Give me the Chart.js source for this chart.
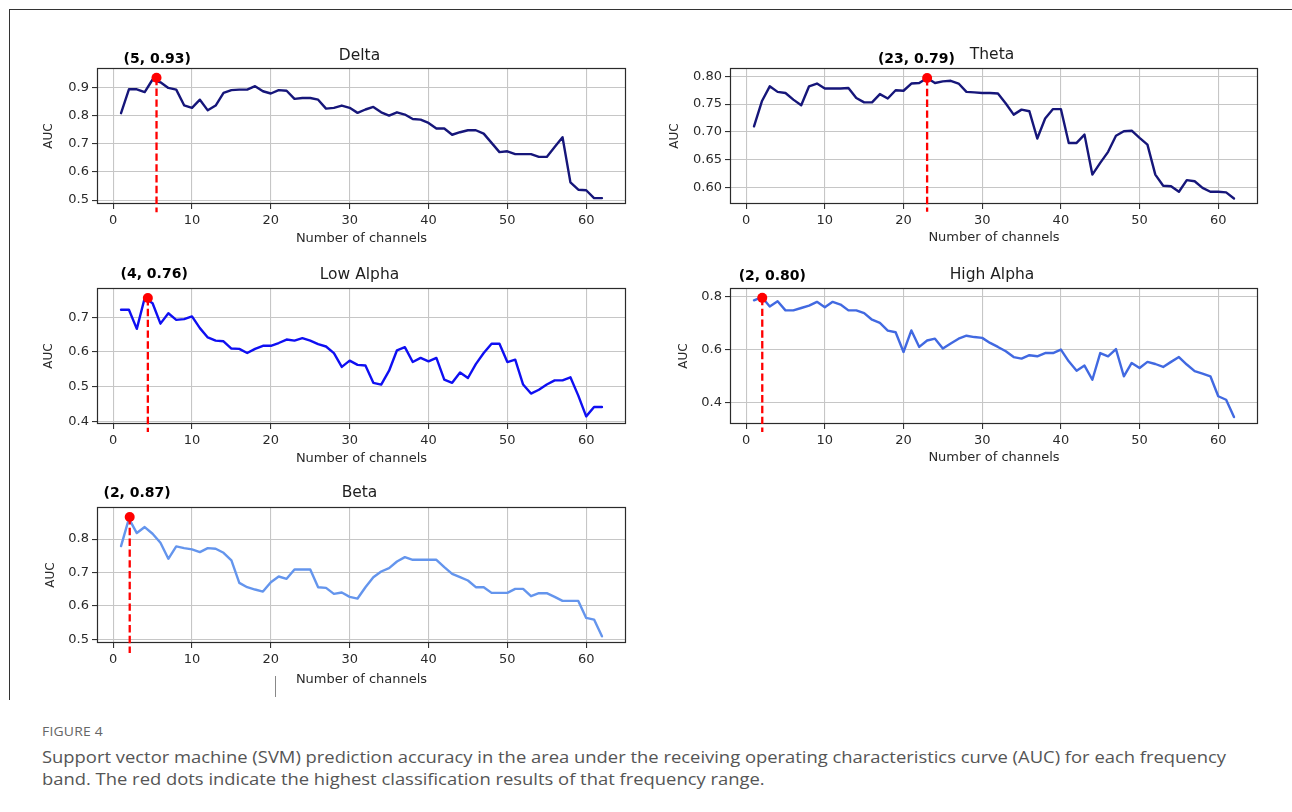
<!DOCTYPE html>
<html>
<head>
<meta charset="utf-8">
<script src="https://cdn.jsdelivr.net/npm/chart.js@4.4.1/dist/chart.umd.min.js"></script>
<style>
html,body{margin:0;padding:0;background:#fff;width:1292px;height:812px;overflow:hidden;position:relative;}
canvas{position:absolute;}
#frame{position:absolute;left:9px;top:9px;width:1300px;height:690px;border-top:1px solid #333;border-left:1px solid #333;}
#artifact{position:absolute;left:275px;top:676px;width:1px;height:21px;background:#888;}
.cap{position:absolute;white-space:nowrap;transform-origin:0 0;font-family:"Open Sans",sans-serif;}
#figlabel{left:42px;top:723px;font-size:13px;line-height:16px;color:#666;letter-spacing:0.2px;}
#caption{left:42px;top:746px;font-size:17px;line-height:22px;color:#555;}
</style>
</head>
<body>
<div id="frame"></div>
<div id="artifact"></div>
<div id="figlabel" class="cap">FIGURE 4</div>
<div id="caption" class="cap"><span id="capline1">Support vector machine (SVM) prediction accuracy in the area under the receiving operating characteristics curve (AUC) for each frequency</span><br><span>band. The red dots indicate the highest classification results of that frequency range.</span></div>
<script>
// ---------------- data ----------------
const channels = [1,2,3,4,5,6,7,8,9,10,11,12,13,14,15,16,17,18,19,20,21,22,23,24,25,26,27,28,29,30,31,32,33,34,35,36,37,38,39,40,41,42,43,44,45,46,47,48,49,50,51,52,53,54,55,56,57,58,59,60,61,62];

const deltaAUC = [0.81,0.895,0.895,0.885,0.93,0.92,0.90,0.894,0.838,0.829,
  0.858,0.82,0.837,0.882,0.892,0.894,0.894,0.906,0.888,0.88,
  0.892,0.89,0.861,0.864,0.864,0.858,0.826,0.829,0.837,0.829,
  0.811,0.823,0.832,0.813,0.801,0.813,0.805,0.789,0.787,0.775,
  0.755,0.755,0.733,0.742,0.749,0.749,0.737,0.704,0.671,0.674,
  0.664,0.664,0.664,0.654,0.654,0.689,0.724,0.563,0.537,0.535,
  0.507,0.507];

const thetaAUC = [0.710,0.755,0.782,0.772,0.770,0.758,0.748,0.782,0.787,0.778,
  0.778,0.778,0.779,0.761,0.753,0.753,0.768,0.760,0.775,0.774,
  0.787,0.788,0.797,0.788,0.791,0.792,0.787,0.772,0.771,0.770,
  0.770,0.769,0.751,0.731,0.740,0.737,0.688,0.724,0.741,0.741,
  0.680,0.680,0.695,0.623,0.644,0.664,0.693,0.701,0.702,0.689,
  0.677,0.623,0.603,0.602,0.592,0.613,0.611,0.599,0.592,0.592,
  0.591,0.580];

const lowAlphaAUC = [0.722,0.722,0.667,0.756,0.741,0.682,0.712,0.693,0.695,0.703,
  0.669,0.642,0.633,0.631,0.610,0.609,0.597,0.609,0.618,0.618,
  0.626,0.636,0.633,0.640,0.633,0.623,0.616,0.597,0.557,0.575,
  0.563,0.561,0.511,0.506,0.546,0.605,0.614,0.571,0.583,0.573,
  0.583,0.520,0.511,0.541,0.525,0.565,0.597,0.624,0.624,0.571,
  0.578,0.506,0.480,0.491,0.506,0.518,0.518,0.527,0.474,0.414,
  0.441,0.441];

const highAlphaAUC = [0.785,0.797,0.762,0.781,0.747,0.747,0.756,0.765,0.779,0.759,
  0.779,0.769,0.747,0.747,0.737,0.712,0.700,0.671,0.665,0.591,
  0.672,0.610,0.634,0.641,0.604,0.623,0.641,0.652,0.647,0.644,
  0.625,0.610,0.594,0.572,0.566,0.579,0.575,0.587,0.587,0.600,
  0.556,0.521,0.540,0.487,0.587,0.575,0.602,0.500,0.550,0.531,
  0.554,0.546,0.535,0.554,0.572,0.544,0.519,0.510,0.500,0.425,
  0.412,0.347];

const betaAUC = [0.779,0.861,0.818,0.836,0.816,0.789,0.741,0.778,0.773,0.769,
  0.761,0.773,0.771,0.759,0.736,0.669,0.656,0.649,0.643,0.671,
  0.688,0.681,0.709,0.709,0.709,0.656,0.654,0.636,0.640,0.627,
  0.622,0.656,0.686,0.703,0.713,0.733,0.746,0.738,0.738,0.738,
  0.738,0.716,0.696,0.686,0.676,0.656,0.656,0.639,0.639,0.639,
  0.651,0.651,0.629,0.638,0.638,0.627,0.615,0.615,0.615,0.564,
  0.559,0.509];

const bandNames = ['Delta','Theta','Low Alpha','High Alpha','Beta'];
const peakX = [5.5, 23, 4.4, 2.05, 2.1];
const peakY = [0.936, 0.797, 0.756, 0.794, 0.866];
const peakLabels = ['(5, 0.93)','(23, 0.79)','(4, 0.76)','(2, 0.80)','(2, 0.87)'];
const vlineBottom = [0.457, 0.556, 0.369, 0.291, 0.459];

const xTicks = [0,10,20,30,40,50,60];
const xTickLabels = ['0','10','20','30','40','50','60'];
const yTicksDelta = [0.5,0.6,0.7,0.8,0.9];
const yLabelsDelta = ['0.5','0.6','0.7','0.8','0.9'];
const yTicksTheta = [0.60,0.65,0.70,0.75,0.80];
const yLabelsTheta = ['0.60','0.65','0.70','0.75','0.80'];
const yTicksLowAlpha = [0.4,0.5,0.6,0.7];
const yLabelsLowAlpha = ['0.4','0.5','0.6','0.7'];
const yTicksHighAlpha = [0.4,0.6,0.8];
const yLabelsHighAlpha = ['0.4','0.6','0.8'];
const yTicksBeta = [0.5,0.6,0.7,0.8];
const yLabelsBeta = ['0.5','0.6','0.7','0.8'];

const yMin = [0.486, 0.570, 0.392, 0.321, 0.489];
const yMax = [0.971, 0.815, 0.785, 0.831, 0.896];
const xMin = -2.05, xMax = 65.05;

// ---------------- layout / style ----------------
const panels = [
  {vals: deltaAUC,     yt: yTicksDelta,     yl: yLabelsDelta,     color:'#16167a', box:{L:97, T:68, R:626, B:204},  yTitlePad:14.9, xTitlePad:8,   titleDy:-8,   labelDx:0.7,  labelDy:-5.3},
  {vals: thetaAUC,     yt: yTicksTheta,     yl: yLabelsTheta,     color:'#16167a', box:{L:730, T:68, R:1258, B:204}, yTitlePad:7.2,  xTitlePad:8.5, titleDy:-8.7, labelDx:-10.7, labelDy:-5.3},
  {vals: lowAlphaAUC,  yt: yTicksLowAlpha,  yl: yLabelsLowAlpha,  color:'#0f0ff2', box:{L:97, T:288, R:626, B:424}, yTitlePad:14.9, xTitlePad:8,   titleDy:-9,   labelDx:6.3,  labelDy:-9.7},
  {vals: highAlphaAUC, yt: yTicksHighAlpha, yl: yLabelsHighAlpha, color:'#4169e1', box:{L:730, T:288, R:1258, B:424}, yTitlePad:16.2, xTitlePad:8.5, titleDy:-9,   labelDx:10,   labelDy:-8},
  {vals: betaAUC,      yt: yTicksBeta,      yl: yLabelsBeta,      color:'#6495ed', box:{L:97, T:507, R:626, B:643}, yTitlePad:16.6, xTitlePad:5.4, titleDy:-9.7, labelDx:7.4,  labelDy:-10.3}
];

Chart.defaults.font.family = '"DejaVu Sans", sans-serif';
const TXT = '#2a2a2a';

function decorPlugin(i, p) {
  return {
    id: 'decor' + i,
    beforeDatasetsDraw(chart) {
      const a = chart.chartArea, c = chart.ctx;
      c.save();
      c.strokeStyle = '#2b2b2b';
      c.lineWidth = 1.2;
      c.strokeRect(a.left + 0.5, a.top + 0.5, a.right - a.left - 1, a.bottom - a.top - 1);
      c.restore();
    },
    afterDatasetsDraw(chart) {
      const a = chart.chartArea, c = chart.ctx, xs = chart.scales.x;
      c.save();
      c.fillStyle = '#1e1e1e';
      c.textAlign = 'center';
      c.textBaseline = 'alphabetic';
      c.font = '15.5px "DejaVu Sans"';
      c.fillText(bandNames[i], (a.left + a.right) / 2 - 2, a.top + p.titleDy);
      c.fillStyle = '#000';
      c.font = 'bold 14px "DejaVu Sans"';
      c.fillText(peakLabels[i], xs.getPixelForValue(peakX[i]) + p.labelDx, a.top + p.labelDy);
      c.restore();
    }
  };
}

panels.forEach((p, i) => {
  const b = p.box;
  const W = b.R - b.L + 90, H = b.B - b.T + 90;
  const cv = document.createElement('canvas');
  cv.width = W; cv.height = H;
  cv.style.left = (b.L - 70) + 'px';
  cv.style.top = (b.T - 40) + 'px';
  cv.style.width = W + 'px';
  cv.style.height = H + 'px';
  document.body.appendChild(cv);

  new Chart(cv, {
    type: 'line',
    data: {
      datasets: [
        { data: [{x: peakX[i], y: peakY[i]}], showLine: false, pointRadius: 5, pointHoverRadius: 5,
          pointBackgroundColor: '#ff0000', pointBorderWidth: 0, clip: false },
        { data: [{x: peakX[i], y: peakY[i]}, {x: peakX[i], y: vlineBottom[i]}], borderColor: '#ff0000',
          borderWidth: 2.3, borderDash: [7.4, 3.4], pointRadius: 0, clip: false, fill: false },
        { data: channels.map((c, k) => ({x: c, y: p.vals[k]})), borderColor: p.color, borderWidth: 2.4,
          pointRadius: 0, tension: 0, fill: false, borderJoinStyle: 'round', borderCapStyle: 'round' }
      ]
    },
    options: {
      responsive: false,
      animation: false,
      events: [],
      layout: { padding: { left: 0, top: 40, right: 20, bottom: 0 } },
      plugins: { legend: { display: false }, tooltip: { enabled: false }, title: { display: false } },
      scales: {
        x: {
          type: 'linear', min: xMin, max: xMax,
          afterBuildTicks: s => { s.ticks = xTicks.map(v => ({value: v})); },
          afterFit: s => { s.height = 50; },
          ticks: { autoSkip: false, maxRotation: 0, padding: 4, color: TXT, font: { size: 13 },
                   callback: (v, idx) => xTickLabels[idx] },
          grid: { color: '#c6c6c6', lineWidth: 1.1, tickColor: '#333', tickLength: 5 },
          border: { display: false },
          title: { display: true, text: 'Number of channels', color: TXT, font: { size: 13 },
                   padding: { top: 0, bottom: p.xTitlePad } }
        },
        y: {
          type: 'linear', min: yMin[i], max: yMax[i],
          afterBuildTicks: s => { s.ticks = p.yt.map(v => ({value: v})); },
          afterFit: s => { s.width = 70; },
          ticks: { autoSkip: false, padding: 3, color: TXT, font: { size: 13 },
                   callback: (v, idx) => p.yl[idx] },
          grid: { color: '#c6c6c6', lineWidth: 1.1, tickColor: '#333', tickLength: 5 },
          border: { display: false },
          title: { display: true, text: 'AUC', color: TXT, font: { size: 12 },
                   padding: { top: p.yTitlePad, bottom: 0 } }
        }
      }
    },
    plugins: [decorPlugin(i, p)]
  });
});

// fit caption widths to the reference
function fitCaption() {
  const l1 = document.getElementById('capline1');
  const w1 = l1.getBoundingClientRect().width;
  if (w1 > 0) document.getElementById('caption').style.transform = 'scaleX(' + (1184 / w1) + ')';
  const fl = document.getElementById('figlabel');
  const w2 = fl.getBoundingClientRect().width;
  if (w2 > 0) fl.style.transform = 'scaleX(' + (61 / w2) + ')';
}
fitCaption();
</script>
</body>
</html>
